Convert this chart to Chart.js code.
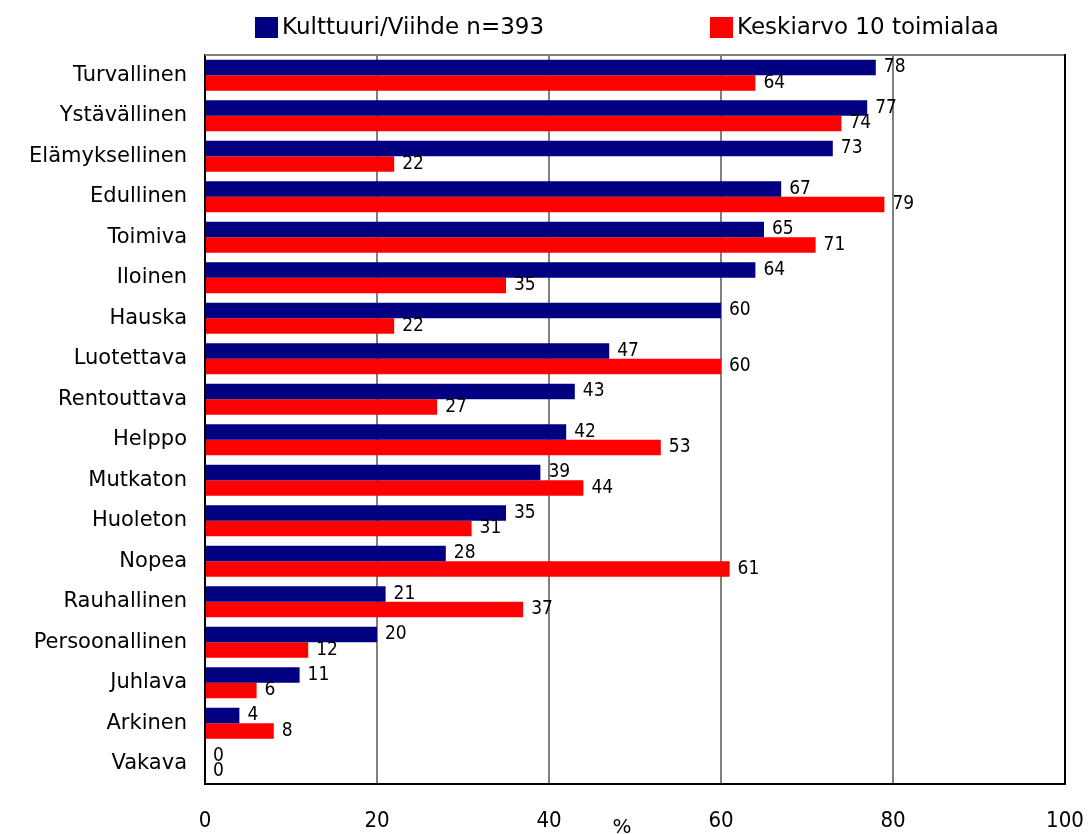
<!DOCTYPE html>
<html>
<head>
<meta charset="utf-8">
<script src="https://cdn.jsdelivr.net/npm/chart.js@4.4.1/dist/chart.umd.min.js"></script>
<style>
html,body{margin:0;padding:0;background:#fff;}
canvas{display:block;}
</style>
</head>
<body>
<canvas id="c" width="1088" height="834"></canvas>
<script>
const categories = ['Turvallinen','Ystävällinen','Elämyksellinen','Edullinen','Toimiva','Iloinen','Hauska','Luotettava','Rentouttava','Helppo','Mutkaton','Huoleton','Nopea','Rauhallinen','Persoonallinen','Juhlava','Arkinen','Vakava'];
const kulttuuriViihde = [78,77,73,67,65,64,60,47,43,42,39,35,28,21,20,11,4,0];
const keskiarvo10 = [64,74,22,79,71,35,22,60,27,53,44,31,61,37,12,6,8,0];
const seriesNames = ['Kulttuuri/Viihde n=393','Keskiarvo 10 toimialaa'];
const xTicks = [0,20,40,60,80,100];
const axisTitle = '%';

const valueLabels = {
  id:'valueLabels',
  afterDatasetsDraw(chart){
    const ctx = chart.ctx;
    ctx.save();
    ctx.font = '19px "DejaVu Sans Condensed", "DejaVu Sans"';
    ctx.fillStyle = '#000';
    ctx.textAlign = 'left';
    ctx.textBaseline = 'middle';
    chart.data.datasets.forEach((ds,i)=>{
      chart.getDatasetMeta(i).data.forEach((bar,j)=>{
        ctx.fillText(String(ds.data[j]), bar.x + 8, bar.y);
      });
    });
    ctx.restore();
  }
};

const frame = {
  id:'frame',
  afterDraw(chart){
    const ctx = chart.ctx, a = chart.chartArea;
    ctx.save();
    ctx.lineWidth = 2;
    ctx.strokeStyle = '#808080';
    ctx.beginPath(); ctx.moveTo(a.left, a.top); ctx.lineTo(a.right, a.top); ctx.stroke();
    ctx.strokeStyle = '#000';
    ctx.beginPath(); ctx.moveTo(a.right, a.top-1); ctx.lineTo(a.right, a.bottom+1); ctx.stroke();
    // axis title
    ctx.font = '20px "DejaVu Sans"';
    ctx.fillStyle = '#000';
    ctx.textAlign = 'center';
    ctx.textBaseline = 'middle';
    ctx.fillText(axisTitle, 622, 828);
    // legend
    const items = [{x:255},{x:710}];
    ctx.font = '23px "DejaVu Sans"';
    ctx.textAlign = 'left';
    ctx.textBaseline = 'middle';
    chart.data.datasets.forEach((ds,i)=>{
      const it = items[i];
      ctx.fillStyle = ds.backgroundColor;
      ctx.fillRect(it.x, 17, 23, 21);
      ctx.fillStyle = '#000';
      ctx.fillText(ds.label, it.x + 27, 28);
    });
    ctx.restore();
  }
};

new Chart(document.getElementById('c'), {
  type:'bar',
  data:{
    labels: categories,
    datasets:[
      {label: seriesNames[0], data: kulttuuriViihde, backgroundColor:'#000080', categoryPercentage:0.76, barPercentage:1},
      {label: seriesNames[1], data: keskiarvo10, backgroundColor:'#ff0000', categoryPercentage:0.76, barPercentage:1}
    ]
  },
  options:{
    indexAxis:'y',
    responsive:false,
    animation:false,
    layout:{padding:{top:55, right:23, left:0, bottom:0}},
    plugins:{legend:{display:false}, tooltip:{enabled:false}},
    scales:{
      x:{
        min:0, max:100,
        afterBuildTicks(scale){ scale.ticks = xTicks.map(v=>({value:v})); },
        afterFit(scale){ scale.height = 50; scale.paddingRight = 0; scale.paddingLeft = 0; },
        grid:{
          drawTicks:false,
          lineWidth:2,
          color:(c)=> (c.tick && (c.tick.value===0 || c.tick.value===100)) ? 'rgba(0,0,0,0)' : '#808080'
        },
        border:{display:true, color:'#000', width:2},
        ticks:{padding:24, color:'#000', font:{family:'"DejaVu Sans Condensed", "DejaVu Sans"', size:22}, maxRotation:0}
      },
      y:{
        afterFit(scale){ scale.width = 205; scale.paddingTop = 0; scale.paddingBottom = 0; },
        grid:{display:false, drawTicks:false},
        border:{display:true, color:'#000', width:2},
        ticks:{padding:18, color:'#000', font:{family:'"DejaVu Sans"', size:21}}
      }
    }
  },
  plugins:[valueLabels, frame]
});
</script>
</body>
</html>
